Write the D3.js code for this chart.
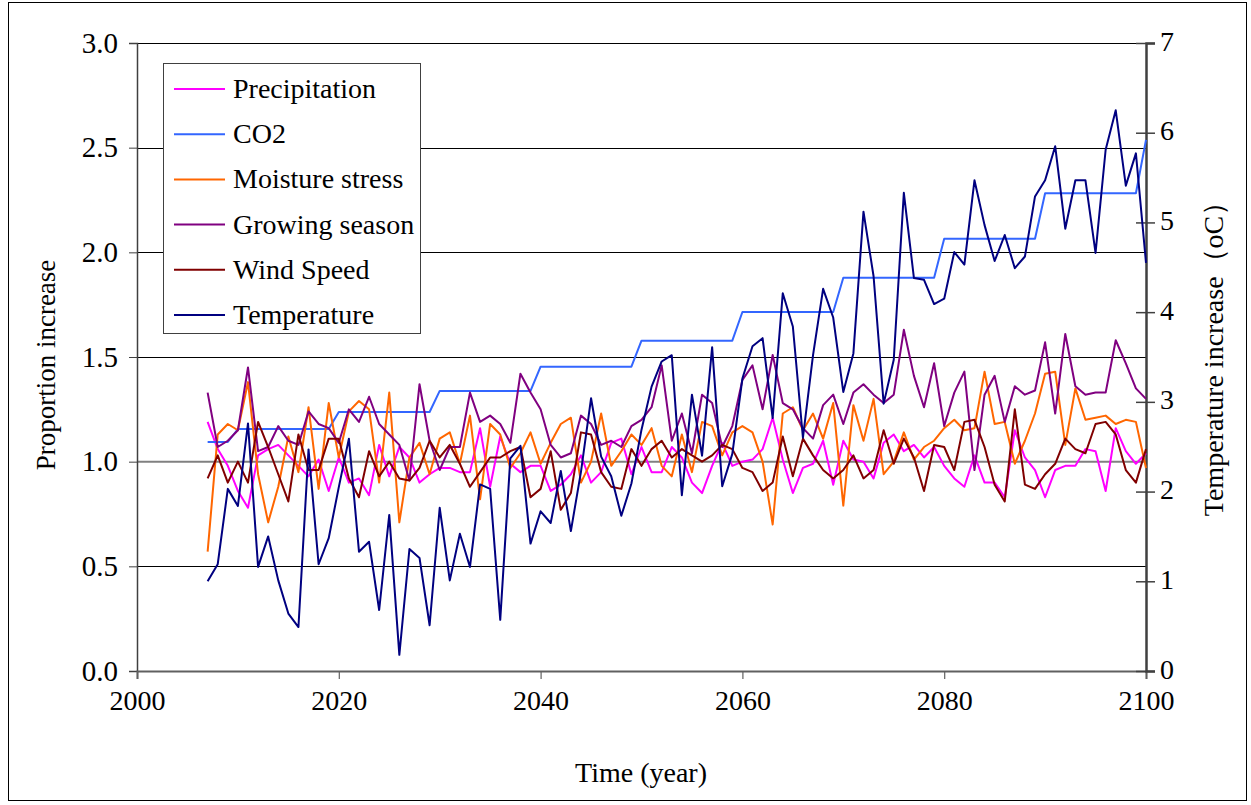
<!DOCTYPE html>
<html><head><meta charset="utf-8">
<script src="https://cdn.jsdelivr.net/npm/d3@7"></script>
<style>
html,body{margin:0;padding:0;background:#fff;}
svg text{font-family:"Liberation Serif","Times New Roman",serif;fill:#000;}
</style></head>
<body>
<svg id="chart" width="1251" height="805"></svg>
<script>
const years = d3.range(2007, 2101);
const precipitation = [1.19,1.06,0.98,
 0.86,0.78,1.03,1.06,1.08,1.03,0.98,0.93,1.01,0.86,
 1.02,0.90,0.92,0.84,1.08,0.93,1.07,1.02,0.90,0.94,
 0.97,0.97,0.95,0.95,1.16,0.88,1.12,0.99,0.95,0.98,
 0.98,0.86,0.89,0.94,1.03,0.90,0.95,1.09,1.11,0.94,
 1.07,0.95,0.95,1.07,1.02,0.90,0.85,0.98,1.09,0.98,
 1.00,1.01,1.06,1.21,1.01,0.85,0.97,0.99,1.10,0.89,
 1.10,1.01,1.00,0.92,1.09,1.13,1.05,1.08,1.02,1.07,
 0.98,0.92,0.88,1.03,0.90,0.90,0.83,1.15,1.02,0.96,
 0.83,0.96,0.98,0.98,1.06,1.05,0.86,1.16,1.05,0.99,
 1.04];
const co2 = [1.094,1.094,1.094,
 1.156,1.156,1.156,1.156,1.156,1.156,1.156,1.156,1.156,1.156,
 1.237,1.237,1.237,1.237,1.237,1.237,1.237,1.237,1.237,1.237,
 1.338,1.338,1.338,1.338,1.338,1.338,1.338,1.338,1.338,1.338,
 1.454,1.454,1.454,1.454,1.454,1.454,1.454,1.454,1.454,1.454,
 1.578,1.578,1.578,1.578,1.578,1.578,1.578,1.578,1.578,1.578,
 1.715,1.715,1.715,1.715,1.715,1.715,1.715,1.715,1.715,1.715,
 1.879,1.879,1.879,1.879,1.879,1.879,1.879,1.879,1.879,1.879,
 2.065,2.065,2.065,2.065,2.065,2.065,2.065,2.065,2.065,2.065,
 2.282,2.282,2.282,2.282,2.282,2.282,2.282,2.282,2.282,2.282,
 2.537];
const moisture = [0.57,1.13,1.18,
 1.15,1.38,0.94,0.71,0.88,1.12,0.95,1.26,0.87,1.28,
 1.02,1.24,1.29,1.25,0.90,1.33,0.71,1.02,1.09,0.94,
 1.11,1.14,0.99,1.22,0.82,1.18,1.13,0.97,1.04,1.14,
 0.99,1.09,1.18,1.21,0.90,1.00,1.23,0.98,1.05,1.13,
 1.08,1.16,0.98,0.93,1.13,0.95,1.19,1.17,1.03,1.14,
 1.17,1.14,1.00,0.70,1.23,1.26,1.15,1.23,1.11,1.28,
 0.79,1.27,1.10,1.30,0.94,1.00,1.14,1.01,1.07,1.10,
 1.16,1.20,1.15,1.16,1.43,1.18,1.19,0.99,1.10,1.23,
 1.42,1.43,1.08,1.35,1.20,1.21,1.22,1.18,1.20,1.19,
 0.97];
const growing = [1.33,1.07,1.10,
 1.15,1.45,1.05,1.07,1.17,1.10,1.08,1.24,1.18,1.16,
 1.09,1.25,1.19,1.31,1.18,1.13,1.08,0.91,1.37,1.10,
 0.96,1.07,1.07,1.33,1.19,1.22,1.18,1.09,1.42,1.33,
 1.25,1.08,1.02,1.04,1.22,1.18,1.08,1.10,1.07,1.17,
 1.20,1.26,1.46,1.10,1.23,1.04,1.32,1.28,1.07,1.17,
 1.39,1.46,1.25,1.51,1.28,1.25,1.16,1.11,1.27,1.32,
 1.18,1.33,1.37,1.32,1.28,1.32,1.63,1.41,1.26,1.47,
 1.17,1.33,1.43,0.96,1.32,1.41,1.19,1.36,1.32,1.34,
 1.57,1.23,1.61,1.36,1.32,1.33,1.33,1.58,1.47,1.35,
 1.30];
const wind = [0.92,1.03,0.90,
 1.00,0.90,1.19,1.07,0.94,0.81,1.13,0.96,0.96,1.11,
 1.11,0.92,0.83,1.05,0.93,1.00,0.92,0.91,0.97,1.10,
 1.02,1.08,0.99,0.88,0.95,1.02,1.02,1.05,1.07,0.83,
 0.87,1.05,0.77,0.85,1.14,1.13,0.95,0.88,0.87,1.06,
 0.98,1.06,1.10,1.02,1.06,1.03,1.00,1.03,1.08,1.06,
 0.97,0.95,0.86,0.90,1.12,0.93,1.11,1.03,0.96,0.92,
 0.96,1.03,0.92,0.96,1.15,0.99,1.11,1.02,0.86,1.08,
 1.07,0.96,1.19,1.20,1.07,0.89,0.81,1.25,0.89,0.87,
 0.94,0.99,1.11,1.06,1.04,1.18,1.19,1.13,0.96,0.90,
 1.06];
const temperature = [1.00,1.19,2.03,
 1.84,2.76,1.16,1.50,1.01,0.64,0.49,2.47,1.19,1.48,
 2.05,2.59,1.33,1.44,0.68,1.74,0.18,1.36,1.26,0.51,
 1.82,1.01,1.53,1.16,2.08,2.03,0.57,2.37,2.51,1.42,
 1.78,1.65,2.23,1.56,2.22,3.04,2.39,2.17,1.73,2.09,
 2.69,3.17,3.45,3.52,1.96,3.08,2.40,3.61,2.06,2.42,
 3.26,3.62,3.71,2.82,4.21,3.84,2.60,3.52,4.26,3.94,
 3.11,3.54,5.12,4.40,2.98,3.47,5.33,4.38,4.36,4.09,
 4.15,4.67,4.53,5.47,4.97,4.57,4.86,4.49,4.62,5.29,
 5.47,5.85,4.93,5.47,5.47,4.66,5.81,6.25,5.41,5.77,
 4.55];
const referenceLevel = [1.0];
const xTicks = [2000, 2020, 2040, 2060, 2080, 2100];
const yLeftTicks = [0, 0.5, 1.0, 1.5, 2.0, 2.5, 3.0];
const yRightTicks = [0, 1, 2, 3, 4, 5, 6, 7];
const seriesNames = ["Precipitation","CO2","Moisture stress","Growing season","Wind Speed","Temperature"];
const seriesColors = ["#FF00FF","#3366FF","#FF6600","#800080","#800000","#000080"];

const FONT = '"Liberation Serif","Times New Roman",serif';
const svg = d3.select("#chart");
const L = 137, R = 1146, T = 43, B = 671;
const x = d3.scaleLinear().domain([2000, 2100]).range([L, R]);
const yL = d3.scaleLinear().domain([0, 3]).range([B, T]);
const yR = d3.scaleLinear().domain([0, 7]).range([B, T]);

// outer frame
svg.append("rect").attr("x", 8.5).attr("y", 2.5).attr("width", 1238).attr("height", 798)
  .attr("fill", "none").attr("stroke", "#000").attr("stroke-width", 1);

// gridlines
svg.append("g").selectAll("line").data(yLeftTicks.filter(v => v > 0 && v !== 1.0))
  .join("line").attr("x1", L).attr("x2", R)
  .attr("y1", d => Math.round(yL(d)) + 0.5).attr("y2", d => Math.round(yL(d)) + 0.5)
  .attr("stroke", "#000").attr("stroke-width", 1);
svg.append("g").selectAll("line").data(referenceLevel)
  .join("line").attr("x1", L).attr("x2", R)
  .attr("y1", d => yL(d)).attr("y2", d => yL(d))
  .attr("stroke", "#808080").attr("stroke-width", 2);

// left axis
const gL = svg.append("g").attr("transform", `translate(${L},0)`)
  .call(d3.axisLeft(yL).tickValues(yLeftTicks).tickFormat(d3.format(".1f")).tickSize(8).tickPadding(11));
gL.select(".domain").attr("stroke", "#404040").attr("stroke-width", 1.5);
gL.selectAll(".tick line").attr("stroke", "#404040");
gL.selectAll("text").attr("font-size", 29).style("font-family", FONT);

// bottom axis
const gB = svg.append("g").attr("transform", `translate(0,${B})`)
  .call(d3.axisBottom(x).tickValues(xTicks).tickFormat(d3.format("d")).tickSize(8).tickPadding(11));
gB.select(".domain").attr("stroke", "#606060").attr("stroke-width", 2);
gB.selectAll(".tick line").attr("stroke", "#606060").attr("stroke-width", 1.2);
gB.selectAll("text").attr("font-size", 28).style("font-family", FONT);

// right axis (ticks cross the axis)
const gR = svg.append("g").attr("transform", `translate(${R},0)`)
  .call(d3.axisRight(yR).tickValues(yRightTicks).tickFormat(d3.format("d")).tickSize(9).tickPadding(5));
gR.select(".domain").attr("stroke", "#404040").attr("stroke-width", 2.5);
gR.selectAll(".tick line").attr("stroke", "#404040").attr("stroke-width", 1.5);
gR.selectAll("text").attr("font-size", 28).attr("dy", "0.25em").style("font-family", FONT);
const gR2 = svg.append("g").attr("transform", `translate(${R},0)`)
  .call(d3.axisLeft(yR).tickValues(yRightTicks).tickFormat("").tickSize(10));
gR2.select(".domain").remove();
gR2.selectAll(".tick line").attr("stroke", "#404040").attr("stroke-width", 1.5);

// series
const leftSeries = [precipitation, co2, moisture, growing, wind];
const lineL = d3.line().x((d, i) => x(years[i])).y(d => yL(d));
const lineR = d3.line().x((d, i) => x(years[i])).y(d => yR(d));
leftSeries.forEach((s, k) => {
  svg.append("path").datum(s).attr("d", lineL).attr("fill", "none")
    .attr("stroke", seriesColors[k]).attr("stroke-width", 2).attr("stroke-linejoin", "round");
});
svg.append("path").datum(temperature).attr("d", lineR).attr("fill", "none")
  .attr("stroke", seriesColors[5]).attr("stroke-width", 2).attr("stroke-linejoin", "round");

// legend
const lg = svg.append("g");
lg.append("rect").attr("x", 163.5).attr("y", 63.5).attr("width", 257).attr("height", 270)
  .attr("fill", "#fff").attr("stroke", "#404040").attr("stroke-width", 1);
seriesNames.forEach((name, i) => {
  const cy = 89 + i * 45.2;
  lg.append("line").attr("x1", 174).attr("x2", 225).attr("y1", cy).attr("y2", cy)
    .attr("stroke", seriesColors[i]).attr("stroke-width", 2);
  lg.append("text").attr("x", 233).attr("y", cy + 9).attr("font-size", 28).text(name);
});

// axis titles
svg.append("text").attr("transform", "translate(55,365) rotate(-90)")
  .attr("text-anchor", "middle").attr("font-size", 27).text("Proportion increase");
svg.append("text").attr("transform", "translate(1223,352) rotate(-90)")
  .attr("text-anchor", "middle").attr("font-size", 28).text("Temperature increase（oC）");
svg.append("text").attr("x", 641).attr("y", 782)
  .attr("text-anchor", "middle").attr("font-size", 28).text("Time (year)");
</script>
</body></html>
